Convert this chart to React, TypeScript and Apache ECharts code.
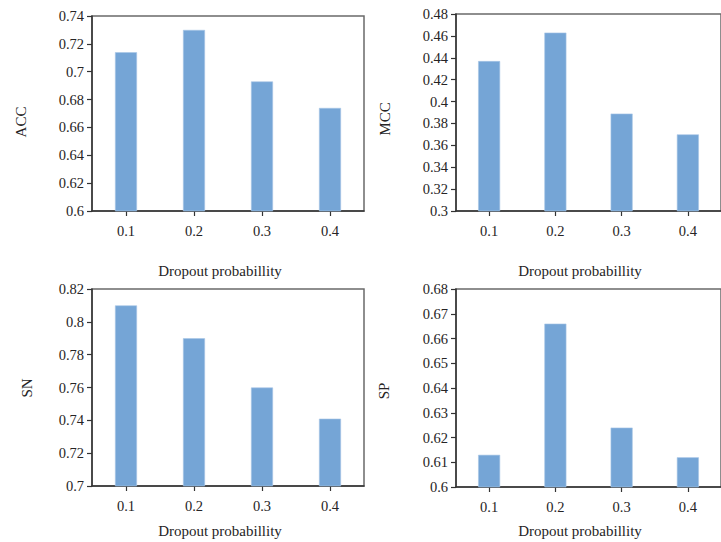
import React, { useEffect, useRef } from "react";
import * as echarts from "echarts";

const categories = ["0.1", "0.2", "0.3", "0.4"];
const accValues = [0.714, 0.730, 0.693, 0.674];
const mccValues = [0.437, 0.463, 0.389, 0.370];
const snValues = [0.810, 0.790, 0.760, 0.741];
const spValues = [0.613, 0.666, 0.624, 0.612];
const xTitle = "Dropout probabillity";

const FONT = "Liberation Serif";
const TXT = "#262425";
const BAR = "#75a5d6";

export default function App() {
  const ref = useRef<HTMLDivElement>(null);
  useEffect(() => {
    if (!ref.current) return;
    const chart = echarts.init(ref.current, undefined, { renderer: "svg" });
    const grids = [
      { left: 92, top: 16, width: 272, height: 195 },
      { left: 456, top: 14, width: 266, height: 197 },
      { left: 92, top: 289, width: 272, height: 197 },
      { left: 456, top: 289, width: 266, height: 198 },
    ];
    const yCfg = [
      { min: 0.6, max: 0.74, interval: 0.02 },
      { min: 0.3, max: 0.48, interval: 0.02 },
      { min: 0.7, max: 0.82, interval: 0.02 },
      { min: 0.6, max: 0.68, interval: 0.01 },
    ];
    const data = [accValues, mccValues, snValues, spValues];
    const yTitles = [
      { text: "ACC", x: 21, y: 122 },
      { text: "MCC", x: 385, y: 119 },
      { text: "SN", x: 27, y: 388 },
      { text: "SP", x: 384, y: 391 },
    ];
    const xTitles = [
      { x: 220, y: 271 },
      { x: 580, y: 271 },
      { x: 220, y: 531 },
      { x: 580, y: 531 },
    ];
    const labelStyle = { fontFamily: FONT, fontSize: 14.5, color: TXT };
    chart.setOption({
      animation: false,
      backgroundColor: "#ffffff",
      grid: grids.map((g) => ({
        ...g,
        show: true,
        borderColor: "#6a6a6a",
        borderWidth: 1.5,
        backgroundColor: "transparent",
      })),
      xAxis: grids.map((_, i) => ({
        type: "category",
        gridIndex: i,
        data: categories,
        axisLine: { show: true, lineStyle: { color: "#333", width: 1.5 } },
        axisTick: { show: true, alignWithLabel: true, length: 5, lineStyle: { color: "#333", width: 1.2 } },
        axisLabel: { ...labelStyle, margin: 12 },
        splitLine: { show: false },
      })),
      yAxis: yCfg.map((c, i) => ({
        type: "value",
        gridIndex: i,
        min: c.min,
        max: c.max,
        interval: c.interval,
        axisLine: { show: true, lineStyle: { color: "#333", width: 1.5 } },
        axisTick: { show: true, length: 5, lineStyle: { color: "#333", width: 1.2 } },
        axisLabel: { ...labelStyle, margin: 8 },
        splitLine: { show: false },
      })),
      series: data.map((d, i) => ({
        type: "bar",
        xAxisIndex: i,
        yAxisIndex: i,
        data: d,
        barWidth: 22,
        itemStyle: { color: BAR, borderColor: "#a8c6e6", borderWidth: 0.6 },
      })),
      graphic: [
        ...yTitles.map((t) => ({
          type: "text",
          x: t.x,
          y: t.y,
          rotation: Math.PI / 2,
          style: {
            text: t.text,
            fontFamily: FONT,
            fontSize: 15,
            fill: TXT,
            align: "center",
            verticalAlign: "middle",
          },
        })),
        ...xTitles.map((t) => ({
          type: "text",
          x: t.x,
          y: t.y,
          style: {
            text: xTitle,
            fontFamily: FONT,
            fontSize: 15,
            fill: TXT,
            align: "center",
            verticalAlign: "middle",
          },
        })),
      ],
    });
    return () => chart.dispose();
  }, []);
  return (
    <div
      ref={ref}
      style={{ position: "absolute", left: 0, top: 0, width: 721, height: 542 }}
    />
  );
}
